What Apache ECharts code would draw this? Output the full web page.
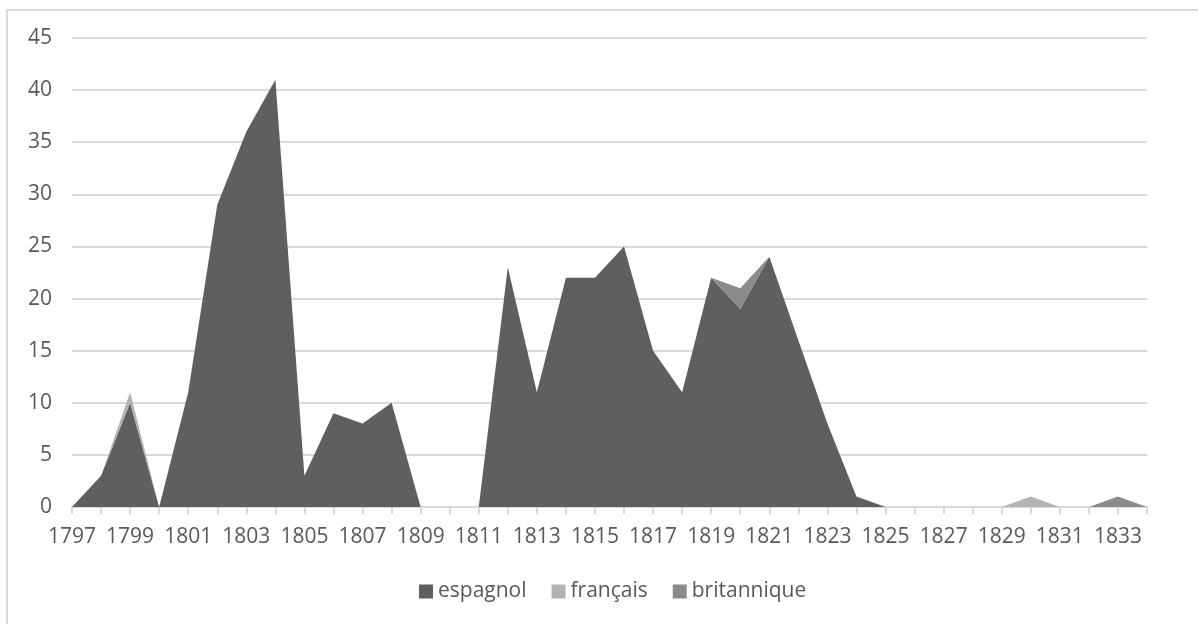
<!DOCTYPE html>
<html>
<head>
<meta charset="utf-8">
<script src="https://cdn.jsdelivr.net/npm/echarts@6/dist/echarts.min.js"></script>
<style>
  html, body { margin: 0; padding: 0; background: #fff; }
  #chart { width: 1198px; height: 624px; }
</style>
</head>
<body>
<div id="chart"></div>
<script>
// années 1797 - 1834
const years = [];
for (let y = 1797; y <= 1834; y++) years.push(String(y));

const espagnol = [0, 3, 10, 0, 11, 29, 36, 41, 3, 9, 8, 10, 0, 0, 0, 23, 11, 22, 22, 25,
                  15, 11, 22, 19, 24, 16, 8, 1, 0, 0, 0, 0, 0, 0, 0, 0, 0, 0];
const francais = [0, 0, 1, 0, 0, 0, 0, 0, 0, 0, 0, 0, 0, 0, 0, 0, 0, 0, 0, 0,
                  0, 0, 0, 0, 0, 0, 0, 0, 0, 0, 0, 0, 0, 1, 0, 0, 0, 0];
const britannique = [0, 0, 0, 0, 0, 0, 0, 0, 0, 0, 0, 0, 0, 0, 0, 0, 0, 0, 0, 0,
                     0, 0, 0, 2, 0, 0, 0, 0, 0, 0, 0, 0, 0, 0, 0, 0, 1, 0];

const seriesNames = ['espagnol', 'français', 'britannique'];
const seriesColors = ['#5f5f5f', '#b3b3b3', '#8b8b8b'];
const seriesData = [espagnol, francais, britannique];

let myChart = echarts.init(document.getElementById('chart'));

let option = {
    animation: false,
    textStyle: {fontFamily: 'Open Sans'},
    graphic: [{
        type: 'rect',
        shape: {x: 7, y: 10, width: 1250, height: 700},
        style: {fill: 'none', stroke: '#d9d9d9', lineWidth: 2},
        silent: true
    }],
    legend: {
        data: seriesNames,
        bottom: 17,
        left: 414,
        itemWidth: 14,
        itemHeight: 14,
        itemGap: 25,
        icon: 'rect',
        textStyle: {fontSize: 21, color: '#595959', fontFamily: 'Open Sans'}
    },
    grid: {left: 72, right: 51, top: 38, bottom: 117, containLabel: false},
    xAxis: {
        type: 'category',
        boundaryGap: false,
        data: years,
        axisLine: {lineStyle: {color: '#d9d9d9', width: 2}},
        axisTick: {show: true, interval: 0, length: 7, lineStyle: {color: '#d9d9d9', width: 2}},
        axisLabel: {interval: 1, color: '#595959', fontSize: 21, margin: 20}
    },
    yAxis: {
        type: 'value',
        min: 0,
        max: 45,
        interval: 5,
        axisLine: {show: false},
        axisTick: {show: false},
        axisLabel: {color: '#595959', fontSize: 21, margin: 20},
        splitLine: {lineStyle: {color: '#d9d9d9', width: 2}}
    },
    series: seriesNames.map((name, i) => ({
        name: name,
        type: 'line',
        stack: 'total',
        data: seriesData[i],
        showSymbol: false,
        symbol: 'none',
        color: seriesColors[i],
        lineStyle: {width: 0},
        areaStyle: {color: seriesColors[i], opacity: 1}
    }))
};

myChart.setOption(option);
</script>
</body>
</html>
